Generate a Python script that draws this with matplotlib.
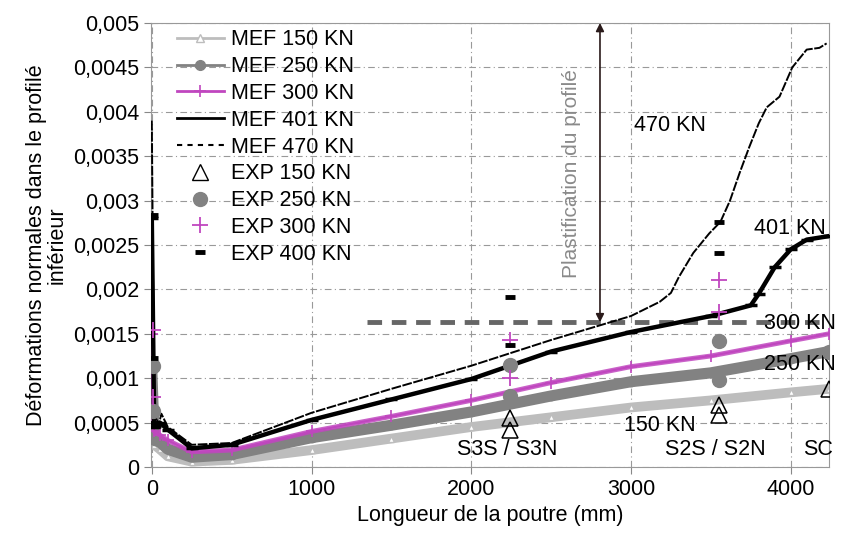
import matplotlib
matplotlib.use('Agg')
import matplotlib.pyplot as plt
from matplotlib.lines import Line2D
from matplotlib.ticker import FuncFormatter, MultipleLocator

plt.rcParams['font.family'] = ['Liberation Sans', 'DejaVu Sans']

# --- données ---
x_mef = [0, 15, 50, 100, 250, 500, 1000, 1500, 2000, 2500, 3000, 3500, 4000, 4240]
mef_150 = [0.0004, 0.00025, 0.0002, 0.00012, 0.00006, 0.00008, 0.00019, 0.00032,
           0.00045, 0.00056, 0.00067, 0.00075, 0.00084, 0.00088]
mef_250 = [0.0011, 0.0003, 0.00028, 0.0002, 0.00011, 0.00014, 0.00033, 0.00047,
           0.00062, 0.0008, 0.00096, 0.00106, 0.00122, 0.0013]
mef_300 = [0.0015, 0.0004, 0.00036, 0.0003, 0.00017, 0.00019, 0.0004, 0.00057,
           0.00075, 0.00095, 0.00113, 0.00125, 0.00142, 0.0015]

x_401 = [0, 15, 50, 100, 250, 500, 1000, 1500, 2000, 2500, 3000, 3500, 3750,
         3800, 3900, 4000, 4100, 4240]
mef_401 = [0.0028, 0.00045, 0.0005, 0.00042, 0.00021, 0.00025, 0.00053, 0.00076,
           0.00099, 0.0013, 0.00152, 0.0017, 0.00182, 0.00195, 0.00225, 0.00245,
           0.00256, 0.0026]

x_470 = [0, 15, 40, 60, 100, 250, 500, 1000, 1500, 2000, 2500, 3000, 3180, 3250,
         3300, 3390, 3490, 3560, 3620, 3680, 3740, 3800, 3850, 3930, 4010, 4100,
         4180, 4225]
mef_470 = [0.0039, 0.0005, 0.00045, 0.0006, 0.00045, 0.00025, 0.00027, 0.00061,
           0.00088, 0.00114, 0.00143, 0.0017, 0.00186, 0.00196, 0.00214, 0.00241,
           0.00263, 0.00276, 0.003, 0.00331, 0.0036, 0.00387, 0.00405, 0.00417,
           0.0045, 0.0047, 0.00472, 0.00477]

# essais
x_exp150 = [5, 2244, 2244, 3550, 3550, 4240]
exp_150 = [0.00053, 0.00055, 0.00042, 0.0007, 0.00059, 0.00088]
x_exp250 = [5, 5, 2244, 2244, 3550, 3550, 4240]
exp_250 = [0.00114, 0.00063, 0.00115, 0.0008, 0.00142, 0.00098, 0.0013]
x_exp300 = [5, 5, 2244, 2244, 3550, 3550]
exp_300 = [0.00154, 0.00079, 0.00143, 0.001, 0.0021, 0.00175]
x_exp400 = [5, 5, 5, 2244, 2244, 3550, 3550]
exp_400 = [0.00284, 0.00123, 0.0005, 0.00191, 0.00137, 0.00276, 0.00241]

plast_x = [1350, 4240]
plast_y = [0.00163, 0.00163]

c_150 = '#bdbdbd'
c_250 = '#828282'
c_300 = '#c046bf'

fig = plt.figure(figsize=(8.45, 5.43), dpi=100)
ax = fig.add_axes([0.1787, 0.140, 0.8024, 0.8177])

# bandes MEF (épaisseur due aux nombreux points du calcul)
ax.plot(x_mef, mef_150, color=c_150, lw=7, solid_capstyle='butt', zorder=2)
ax.plot(x_mef, mef_150, color=c_150, lw=1.5, marker='^', ms=5, mfc='white', zorder=2)
ax.plot(x_mef, mef_250, color=c_250, lw=8, solid_capstyle='butt', zorder=3)
ax.plot(x_mef, mef_250, color=c_250, lw=2, marker='o', ms=6, zorder=3)
ax.plot(x_mef, mef_300, color=c_300, lw=3.5, alpha=0.85, zorder=4)
ax.plot(x_mef, mef_300, color=c_300, lw=1.5, marker='+', ms=9, mew=1.2, zorder=4)
ax.plot(x_401, mef_401, color='black', lw=3.2, zorder=5)
ax.plot(x_401, mef_401, color='black', lw=1, marker='_', ms=8, mew=2.5, zorder=5)
ax.plot(x_470, mef_470, color='black', lw=1.4, dashes=(5, 0.8), zorder=6)

ax.plot(x_exp150, exp_150, ls='none', marker='^', ms=11, mfc='none', mec='black', mew=1.1, zorder=7)
ax.plot(x_exp250, exp_250, ls='none', marker='o', ms=10, color=c_250, zorder=7)
ax.plot(x_exp300, exp_300, ls='none', marker='+', ms=11, mew=1.3, color=c_300, zorder=7)
ax.plot(x_exp400, exp_400, ls='none', marker='_', ms=7, mew=3.5, color='black', zorder=7)

# seuil de plastification
ax.plot(plast_x, plast_y, color='#666666', lw=3.5, dashes=(3, 2), zorder=1)
ax.annotate('', xy=(2806, 0.005), xytext=(2806, 0.00163),
            arrowprops=dict(arrowstyle='<|-|>', color='#2a1a1a', lw=1.2,
                            mutation_scale=12, shrinkA=0, shrinkB=0))
ax.text(2625, 0.0033, 'Plastification du profilé', rotation=90, color='#8a8a8a',
        fontsize=15, ha='center', va='center')

fs = 15.5
ax.text(3244, 0.00385, '470 KN', fontsize=fs, ha='center', va='center')
ax.text(3994, 0.00268, '401 KN', fontsize=fs, ha='center', va='center')
ax.text(4056, 0.00162, '300 KN', fontsize=fs, ha='center', va='center')
ax.text(4056, 0.00115, '250 KN', fontsize=fs, ha='center', va='center')
ax.text(3181, 0.00047, '150 KN', fontsize=fs, ha='center', va='center')
ax.text(2225, 0.0002, 'S3S / S3N', fontsize=fs, ha='center', va='center')
ax.text(3531, 0.0002, 'S2S / S2N', fontsize=fs, ha='center', va='center')
ax.text(4169, 0.0002, 'SC', fontsize=fs, ha='center', va='center')

ax.set_xlim(-5, 4240)
ax.set_ylim(0, 0.005)
ax.xaxis.set_major_locator(MultipleLocator(1000))
ax.yaxis.set_major_locator(MultipleLocator(0.0005))
ax.yaxis.set_major_formatter(FuncFormatter(lambda v, p: '{:g}'.format(round(v, 5)).replace('.', ',')))
ax.tick_params(labelsize=fs, length=5, color='#888888')
ax.grid(True, color='#999999', lw=0.8, dashes=(6, 3, 1, 3))
ax.set_axisbelow(True)
for s in ax.spines.values():
    s.set_color('#999999')

ax.set_xlabel('Longueur de la poutre (mm)', fontsize=fs)
ax.set_ylabel('Déformations normales dans le profilé\ninférieur', fontsize=fs,
              linespacing=0.95)

handles = [
    Line2D([], [], color=c_150, lw=2, marker='^', ms=6, mfc='white'),
    Line2D([], [], color=c_250, lw=2, marker='o', ms=7),
    Line2D([], [], color=c_300, lw=2, marker='+', ms=9, mew=1.2),
    Line2D([], [], color='black', lw=2),
    Line2D([], [], color='black', lw=1.5, dashes=(2.5, 2.5)),
    Line2D([], [], ls='none', marker='^', ms=11, mfc='none', mec='black'),
    Line2D([], [], ls='none', marker='o', ms=10, color=c_250),
    Line2D([], [], ls='none', marker='+', ms=11, mew=1.3, color=c_300),
    Line2D([], [], ls='none', marker='_', ms=7, mew=3.5, color='black'),
]
labels = ['MEF 150 KN', 'MEF 250 KN', 'MEF 300 KN', 'MEF 401 KN', 'MEF 470 KN',
          'EXP 150 KN', 'EXP 250 KN', 'EXP 300 KN', 'EXP 400 KN']
ax.legend(handles, labels, loc='upper left', bbox_to_anchor=(0.022, 1.01),
          frameon=False, fontsize=fs, borderpad=0, labelspacing=0.27,
          handlelength=2.2, handletextpad=0.3, numpoints=1)

fig.savefig('out.png', dpi=100)
